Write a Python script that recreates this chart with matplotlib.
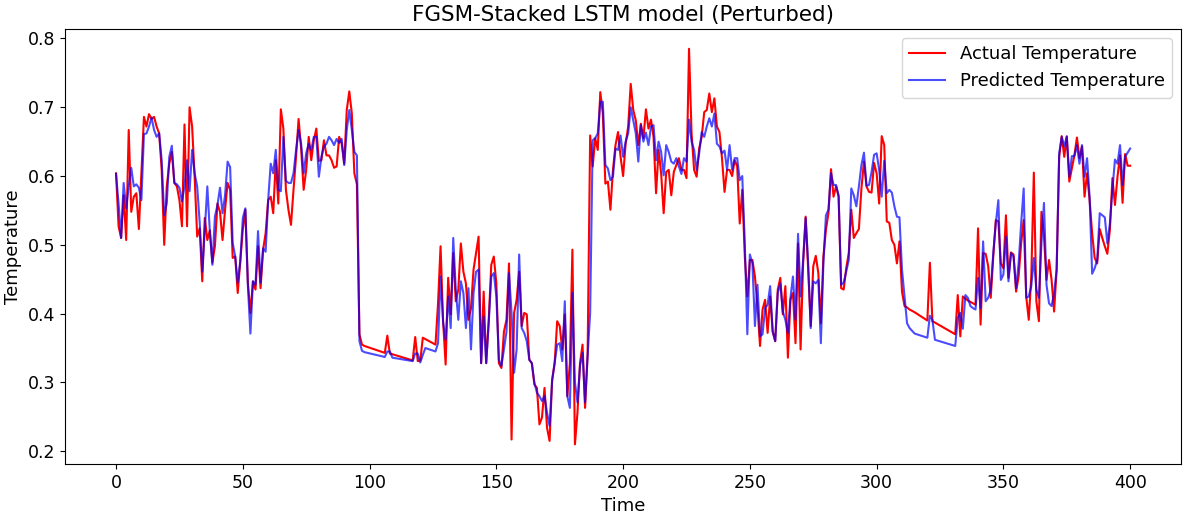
import matplotlib
matplotlib.use("Agg")
import matplotlib.pyplot as plt

# Time index (test samples; gaps where the lines are straight)
time = (list(range(0, 99))
        + [106, 107, 108, 109, 117, 118, 119, 120, 121, 122]
        + list(range(126, 314))
        + [315, 320, 321, 322, 323]
        + list(range(331, 401)))

actual_a = [0.604, 0.527, 0.510, 0.572, 0.507, 0.667, 0.548, 0.570, 0.575, 0.523,
            0.604, 0.686, 0.672, 0.690, 0.683, 0.686, 0.672, 0.662, 0.609, 0.500,
            0.585, 0.618, 0.635, 0.590, 0.585, 0.565, 0.527, 0.675, 0.527, 0.700,
            0.672, 0.599, 0.512, 0.524, 0.447, 0.539, 0.507, 0.521, 0.474, 0.498,
            0.560, 0.548, 0.507, 0.551, 0.590, 0.580, 0.481,
            0.483, 0.430, 0.476, 0.522, 0.551, 0.445, 0.401, 0.447, 0.435, 0.498,
            0.437, 0.493, 0.517, 0.565, 0.570, 0.546, 0.623, 0.560, 0.697, 0.669,
            0.580, 0.551, 0.529, 0.580, 0.628, 0.683, 0.640, 0.580, 0.609, 0.657,
            0.623, 0.652, 0.669, 0.622, 0.623, 0.652, 0.630, 0.630, 0.623, 0.612,
            0.614, 0.657, 0.647, 0.618, 0.696, 0.723, 0.691, 0.604, 0.588,
            0.370, 0.355, 0.353]
actual_b = [0.343, 0.368, 0.342, 0.341, 0.332, 0.366, 0.331, 0.332, 0.365, 0.363]
actual_c = [0.355,
            0.415, 0.498, 0.389, 0.326, 0.452, 0.399, 0.488, 0.418, 0.435, 0.502,
            0.461, 0.444, 0.391, 0.408, 0.464, 0.488, 0.512, 0.328, 0.432, 0.328,
            0.391, 0.471, 0.483, 0.444, 0.328,
            0.321, 0.374, 0.391, 0.473, 0.217, 0.401, 0.420, 0.461, 0.382, 0.401,
            0.399, 0.333, 0.328, 0.297, 0.292, 0.239, 0.249, 0.292, 0.234, 0.215,
            0.304, 0.328, 0.389, 0.382, 0.348, 0.399, 0.280, 0.328, 0.493, 0.210,
            0.256, 0.328, 0.355, 0.263, 0.341, 0.659, 0.614, 0.655, 0.638, 0.722,
            0.691, 0.589, 0.592, 0.551, 0.609, 0.645, 0.664, 0.628, 0.600, 0.647,
            0.672,
            0.734, 0.696, 0.681, 0.645, 0.676, 0.655, 0.697, 0.669, 0.682, 0.657,
            0.575, 0.638, 0.604, 0.546, 0.606, 0.609, 0.572, 0.606, 0.616, 0.626,
            0.609, 0.609, 0.597, 0.785, 0.662, 0.609, 0.599, 0.640, 0.657, 0.693,
            0.696, 0.720, 0.693, 0.713, 0.672, 0.664, 0.626, 0.577, 0.609, 0.609,
            0.600, 0.623, 0.614, 0.531, 0.580, 0.483, 0.425, 0.478, 0.478, 0.454,
            0.411, 0.353,
            0.406, 0.420, 0.372, 0.425, 0.374, 0.360, 0.435, 0.452, 0.399, 0.440,
            0.336, 0.420, 0.430, 0.357, 0.502, 0.348, 0.473, 0.541, 0.464, 0.382,
            0.469, 0.484, 0.459, 0.386, 0.483, 0.522, 0.546, 0.610, 0.570, 0.585,
            0.570, 0.437, 0.435, 0.466, 0.488, 0.551, 0.510, 0.517, 0.523, 0.582,
            0.621, 0.585, 0.577, 0.576, 0.619, 0.604, 0.560, 0.658, 0.645, 0.534,
            0.532,
            0.507, 0.500, 0.473, 0.505, 0.432, 0.411, 0.409, 0.406]
actual_d = [0.402, 0.390, 0.474, 0.389, 0.387]
actual_e = [0.370,
            0.427, 0.367, 0.425, 0.422, 0.419, 0.417, 0.415, 0.413, 0.524, 0.384,
            0.488, 0.487, 0.469, 0.423, 0.483, 0.536, 0.534, 0.473, 0.466, 0.543,
            0.452, 0.489, 0.486, 0.432, 0.454,
            0.502, 0.536, 0.425, 0.391, 0.454, 0.605, 0.418, 0.389, 0.548, 0.512,
            0.449, 0.478, 0.449, 0.403, 0.464, 0.628, 0.658, 0.628, 0.657, 0.592,
            0.611, 0.630, 0.656, 0.626, 0.643, 0.570, 0.604, 0.565, 0.517, 0.481,
            0.473, 0.523, 0.510, 0.498, 0.487, 0.522, 0.597, 0.558, 0.599, 0.630,
            0.561, 0.632, 0.615, 0.615]

predicted_a = [0.603, 0.560, 0.510, 0.590, 0.553, 0.585, 0.612, 0.585, 0.588, 0.583,
               0.565, 0.661, 0.662, 0.672, 0.685, 0.667, 0.657, 0.662, 0.623, 0.543,
               0.560, 0.628, 0.644, 0.590, 0.588, 0.583, 0.563, 0.585, 0.623, 0.578,
               0.638, 0.604, 0.585, 0.532, 0.461, 0.521, 0.585, 0.519, 0.471, 0.541,
               0.558, 0.583, 0.546, 0.572, 0.621, 0.613, 0.503,
               0.483, 0.445, 0.476, 0.539, 0.553, 0.440, 0.371, 0.447, 0.442, 0.520,
               0.445, 0.495, 0.490, 0.565, 0.618, 0.604, 0.638, 0.580, 0.578, 0.657,
               0.593, 0.590, 0.590, 0.604, 0.638, 0.667, 0.647, 0.604, 0.633, 0.647,
               0.638, 0.657, 0.657, 0.599, 0.628, 0.643, 0.647, 0.657, 0.652, 0.645,
               0.654, 0.648, 0.654, 0.616, 0.667, 0.696, 0.667, 0.635, 0.630,
               0.360, 0.346, 0.344]
predicted_b = [0.337, 0.345, 0.345, 0.336, 0.331, 0.342, 0.342, 0.329, 0.340, 0.350]
predicted_c = [0.345,
               0.357, 0.454, 0.387, 0.362, 0.425, 0.379, 0.510, 0.435, 0.391, 0.447,
               0.430, 0.379, 0.437, 0.348, 0.430, 0.461, 0.464, 0.328, 0.396, 0.328,
               0.387, 0.454, 0.459, 0.425, 0.333,
               0.324, 0.348, 0.374, 0.459, 0.401, 0.314, 0.348, 0.486, 0.379, 0.372,
               0.360, 0.333, 0.328, 0.300, 0.285, 0.280, 0.273, 0.280, 0.256, 0.237,
               0.302, 0.328, 0.355, 0.357, 0.331, 0.418, 0.280, 0.263, 0.430, 0.300,
               0.271, 0.324, 0.343, 0.271, 0.338, 0.401, 0.652, 0.655, 0.662, 0.708,
               0.708, 0.616, 0.611, 0.594, 0.599, 0.640, 0.638, 0.659, 0.628, 0.650,
               0.662,
               0.700, 0.681, 0.662, 0.621, 0.674, 0.650, 0.663, 0.645, 0.672, 0.674,
               0.623, 0.650, 0.635, 0.601, 0.645, 0.635, 0.621, 0.618, 0.626, 0.614,
               0.603, 0.626, 0.621, 0.682, 0.650, 0.638, 0.609, 0.633, 0.664, 0.657,
               0.672, 0.684, 0.672, 0.691, 0.647, 0.643, 0.633, 0.637, 0.609, 0.645,
               0.609, 0.626, 0.626, 0.594, 0.600, 0.502, 0.370, 0.486, 0.473, 0.382,
               0.442, 0.367,
               0.370, 0.408, 0.413, 0.440, 0.374, 0.360, 0.430, 0.444, 0.403, 0.391,
               0.372, 0.423, 0.454, 0.391, 0.516, 0.425, 0.478, 0.539, 0.473, 0.379,
               0.447, 0.444, 0.449, 0.357, 0.473, 0.543, 0.551, 0.604, 0.587, 0.587,
               0.572, 0.442, 0.445, 0.461, 0.478, 0.582, 0.572, 0.556, 0.585, 0.616,
               0.634, 0.586, 0.587, 0.606, 0.631, 0.633, 0.609, 0.570, 0.622, 0.575,
               0.580,
               0.576, 0.556, 0.541, 0.540, 0.464, 0.425, 0.386, 0.379]
predicted_d = [0.371, 0.365, 0.397, 0.391, 0.362]
predicted_e = [0.353,
               0.394, 0.401, 0.378, 0.427, 0.423, 0.411, 0.408, 0.406, 0.452, 0.408,
               0.505, 0.418, 0.423, 0.435, 0.488, 0.531, 0.565, 0.449, 0.457, 0.512,
               0.447, 0.488, 0.483, 0.437, 0.473,
               0.531, 0.582, 0.423, 0.425, 0.440, 0.481, 0.435, 0.423, 0.502, 0.561,
               0.442, 0.415, 0.411, 0.430, 0.464, 0.633, 0.657, 0.643, 0.658, 0.599,
               0.629, 0.629, 0.645, 0.618, 0.645, 0.599, 0.626, 0.570, 0.458, 0.466,
               0.478, 0.546, 0.543, 0.540, 0.502, 0.531, 0.580, 0.624, 0.618, 0.645,
               0.587, 0.628, 0.634, 0.640]

actual = actual_a + actual_b + actual_c + actual_d + actual_e
predicted = predicted_a + predicted_b + predicted_c + predicted_d + predicted_e

fig = plt.figure(figsize=(11.88, 5.18), dpi=100)
ax = fig.add_axes([0.055, 0.104, 0.939, 0.840])
ax.plot(time, actual, color="red", linewidth=1.5, label="Actual Temperature")
ax.plot(time, predicted, color="blue", alpha=0.7, linewidth=1.5, label="Predicted Temperature")
ax.set_title("FGSM-Stacked LSTM model (Perturbed)", fontsize=15.5)
ax.set_xlabel("Time", fontsize=13)
ax.set_ylabel("Temperature", fontsize=13)
ax.tick_params(labelsize=12.5)
ax.legend(loc="upper right", fontsize=13)
fig.savefig("out.png", dpi=100)
